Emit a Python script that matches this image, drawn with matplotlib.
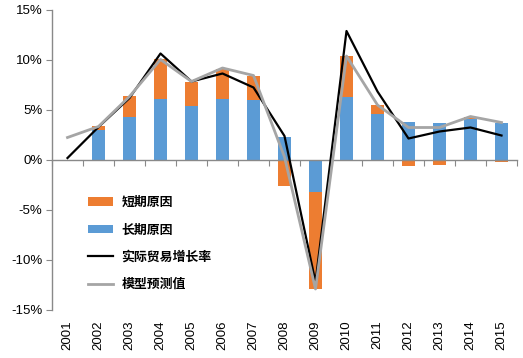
import numpy as np
import matplotlib.pyplot as plt
from matplotlib.ticker import FuncFormatter

years = ['2001', '2002', '2003', '2004', '2005', '2006', '2007', '2008',
         '2009', '2010', '2011', '2012', '2013', '2014', '2015']

# contributions, in percent
long_term = [0.0, 3.0, 4.3, 6.1, 5.45, 6.1, 6.05, 2.35,
             -3.15, 6.3, 4.65, 3.8, 3.7, 4.15, 3.7]
short_term = [0.0, 0.4, 2.1, 4.0, 2.4, 3.0, 2.4, -2.55,
              -9.7, 4.1, 0.85, -0.55, -0.45, 0.15, -0.15]
actual = [0.2, 3.3, 6.2, 10.65, 7.85, 8.65, 7.25, 2.4,
          -12.2, 12.9, 6.85, 2.15, 2.85, 3.25, 2.45]
model = [2.25, 3.35, 6.35, 10.05, 7.85, 9.2, 8.45, 0.3,
         -12.9, 10.4, 5.5, 3.25, 3.25, 4.35, 3.75]

orange = '#ED7D31'
blue = '#5B9BD5'
axis_gray = '#898989'

plt.rcParams['font.family'] = ['Liberation Sans', 'DejaVu Sans']

fig = plt.figure(figsize=(5.23, 3.58), dpi=100)
ax = fig.add_axes([52 / 523, 1 - 310 / 358, 465 / 523, 300 / 358])

x = np.arange(len(years))
lt = np.array(long_term)
st = np.array(short_term)
bottom = np.where(np.sign(st) == np.sign(lt), lt, 0.0)

w = 0.43
b_long = ax.bar(x, lt, width=w, color=blue, zorder=2)
b_short = ax.bar(x, st, width=w, bottom=bottom, color=orange, zorder=2)
l_act, = ax.plot(x, actual, color='black', lw=1.6, zorder=3)
l_mod, = ax.plot(x, model, color='#A5A5A5', lw=2.0, zorder=4)

ax.set_xlim(-0.5, len(years) - 0.5)
ax.set_ylim(-15, 15)
ax.set_yticks(np.arange(-15, 16, 5))
ax.yaxis.set_major_formatter(FuncFormatter(lambda v, p: f'{v:.0f}%'))
ax.tick_params(axis='y', direction='out', length=4, color=axis_gray,
               labelsize=9.5, pad=3)

# category axis crosses at 0, ticks between categories
ax.spines['bottom'].set_position(('data', 0))
ax.set_xticks(np.arange(-0.5, len(years), 1.0))
ax.set_xticklabels([])
ax.tick_params(axis='x', direction='out', length=4, color=axis_gray)
for s in ['top', 'right']:
    ax.spines[s].set_visible(False)
for s in ['left', 'bottom']:
    ax.spines[s].set_color(axis_gray)
    ax.spines[s].set_linewidth(1.0)

for i, yr in enumerate(years):
    ax.text(i, -0.035, yr, transform=ax.get_xaxis_transform(), rotation=90,
            ha='center', va='top', fontsize=9.5)

ax.legend([b_short, b_long, l_act, l_mod],
          ['短期原因', '长期原因', '实际贸易增长率', '模型预测值'],
          loc='upper left', bbox_to_anchor=(0.077, 0.383), frameon=False,
          borderpad=0, borderaxespad=0, handlelength=1.95, handleheight=0.65,
          handletextpad=0.65, labelspacing=1.03,
          prop={'family': ['Noto Sans CJK SC', 'DejaVu Sans'],
                'size': 9.3, 'weight': 'bold'})

fig.savefig('out.png', dpi=100)
